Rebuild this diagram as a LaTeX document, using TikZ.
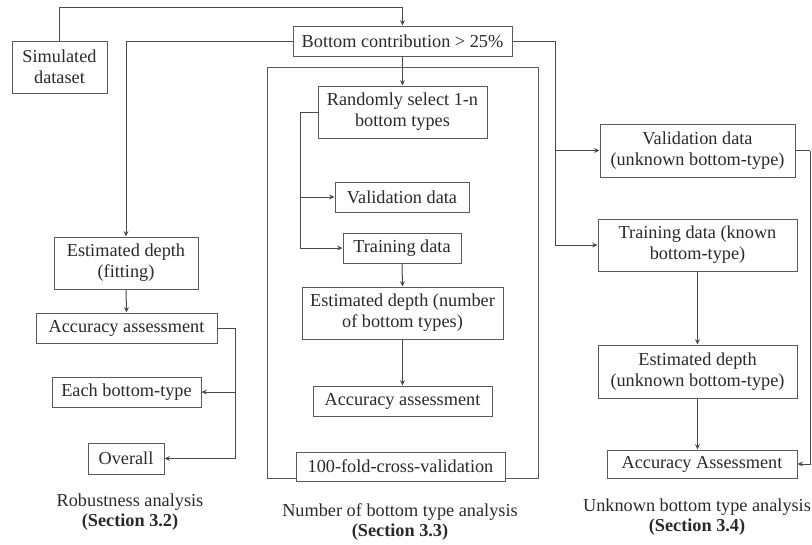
\documentclass[tikz,border=0pt]{standalone}
\usepackage{fontspec}
\setmainfont{Liberation Serif}
\usetikzlibrary{arrows.meta}
\definecolor{linec}{HTML}{4A4A4A}
\definecolor{boxc}{HTML}{5A5A5A}
\definecolor{txtc}{HTML}{2A2A2A}
\tikzset{
  box/.style={draw=boxc, line width=0.75pt, fill=white, align=center, inner sep=0pt, text=txtc,
    font=\fontsize{13.7}{15.6}\selectfont},
  arr/.style={draw=linec, line width=0.75pt, -{Stealth[length=4pt,width=3.6pt]}},
  ln/.style={draw=linec, line width=0.75pt},
  lbl/.style={align=center, text=txtc, font=\fontsize{13.7}{15.6}\selectfont, inner sep=0pt}
}
\begin{document}
\begin{tikzpicture}[x=0.75pt,y=-0.75pt]
\useasboundingbox (0,0) rectangle (812,544);
% middle frame
\draw[ln, draw=boxc] (267,67) rectangle (538,478);
% left column
\node[box, minimum width=71.25pt, minimum height=39pt] (sim) at (59.5,67) {Simulated\\dataset};
\node[box, minimum width=164.25pt, minimum height=22.5pt] (bot) at (402.5,41) {Bottom contribution {\fontspec{Liberation Serif}>} 25\%};
\node[box, minimum width=108pt, minimum height=39pt] (estl) at (126,263) {Estimated depth\\(fitting)};
\node[box, minimum width=135.75pt, minimum height=22.5pt] (accl) at (126.5,328) {Accuracy assessment};
\node[box, minimum width=111.75pt, minimum height=22.5pt] (each) at (126.5,392) {Each bottom-type};
\node[box, minimum width=57pt, minimum height=23.25pt] (over) at (126,458.5) {Overall};
% middle column
\node[box, minimum width=126.75pt, minimum height=39pt] (rand) at (402.5,112) {Randomly select 1-n\\bottom types};
\node[box, minimum width=100.5pt, minimum height=22.5pt] (valm) at (402,197) {Validation data};
\node[box, minimum width=88.5pt, minimum height=22.5pt] (trm) at (402,248) {Training data};
\node[box, minimum width=150.75pt, minimum height=39pt] (estm) at (402.5,313) {Estimated depth (number\\of bottom types)};
\node[box, minimum width=134.25pt, minimum height=22.5pt] (accm) at (402.5,401) {Accuracy assessment};
\node[box, minimum width=156.75pt, minimum height=21.75pt] (fold) at (400.5,466.5) {100-fold-cross-validation};
% right column
\node[box, minimum width=146.25pt, minimum height=39.75pt] (valr) at (697.5,150.5) {Validation data\\(unknown bottom-type)};
\node[box, minimum width=149.25pt, minimum height=39pt] (trr) at (697.5,245) {Training data (known\\bottom-type)};
\node[box, minimum width=149.25pt, minimum height=39.75pt] (estr) at (697.5,371.5) {Estimated depth\\(unknown bottom-type)};
\node[box, minimum width=142.5pt, minimum height=21pt] (accr) at (702,464) {Accuracy Assessment};
% labels
\node[lbl] (l1) at (130,512) {Robustness analysis\\\textbf{(Section 3.2)}};
\node[lbl] (l2) at (400,522) {Number of bottom type analysis\\\textbf{(Section 3.3)}};
\node[lbl] (l3) at (697,517) {Unknown bottom type analysis\\\textbf{(Section 3.4)}};
% bus coordinates
\coordinate (top) at (59.5,7);
\coordinate (rbus) at (555,41);
\coordinate (mbus) at (300,112);
\coordinate (lbus) at (235,328);
\coordinate (rbus2) at (810,150.5);
% connectors
\draw[arr] (sim.north) -- (top) -| (bot.north);
\draw[arr] (bot.west) -| (estl.north);
\draw[ln] (bot.east) -- (rbus);
\draw[arr] (rbus) |- (valr.west);
\draw[arr] (rbus) |- (trr.west);
\draw[arr] (bot.south) -- (rand.north);
\draw[ln] (rand.west) -- (mbus);
\draw[arr] (mbus) |- (valm.west);
\draw[arr] (mbus) |- (trm.west);
\draw[arr] (trm.south) -- (estm.north);
\draw[arr] (estm.south) -- (accm.north);
\draw[arr] (estl.south) -- (accl.north);
\draw[ln] (accl.east) -- (lbus);
\draw[arr] (lbus) |- (each.east);
\draw[arr] (lbus) |- (over.east);
\draw[arr] (trr.south) -- (estr.north);
\draw[arr] (estr.south) -- (estr.south |- accr.north);
\draw[ln] (valr.east) -- (rbus2);
\draw[arr] (rbus2) |- (accr.east);
\end{tikzpicture}
\end{document}
